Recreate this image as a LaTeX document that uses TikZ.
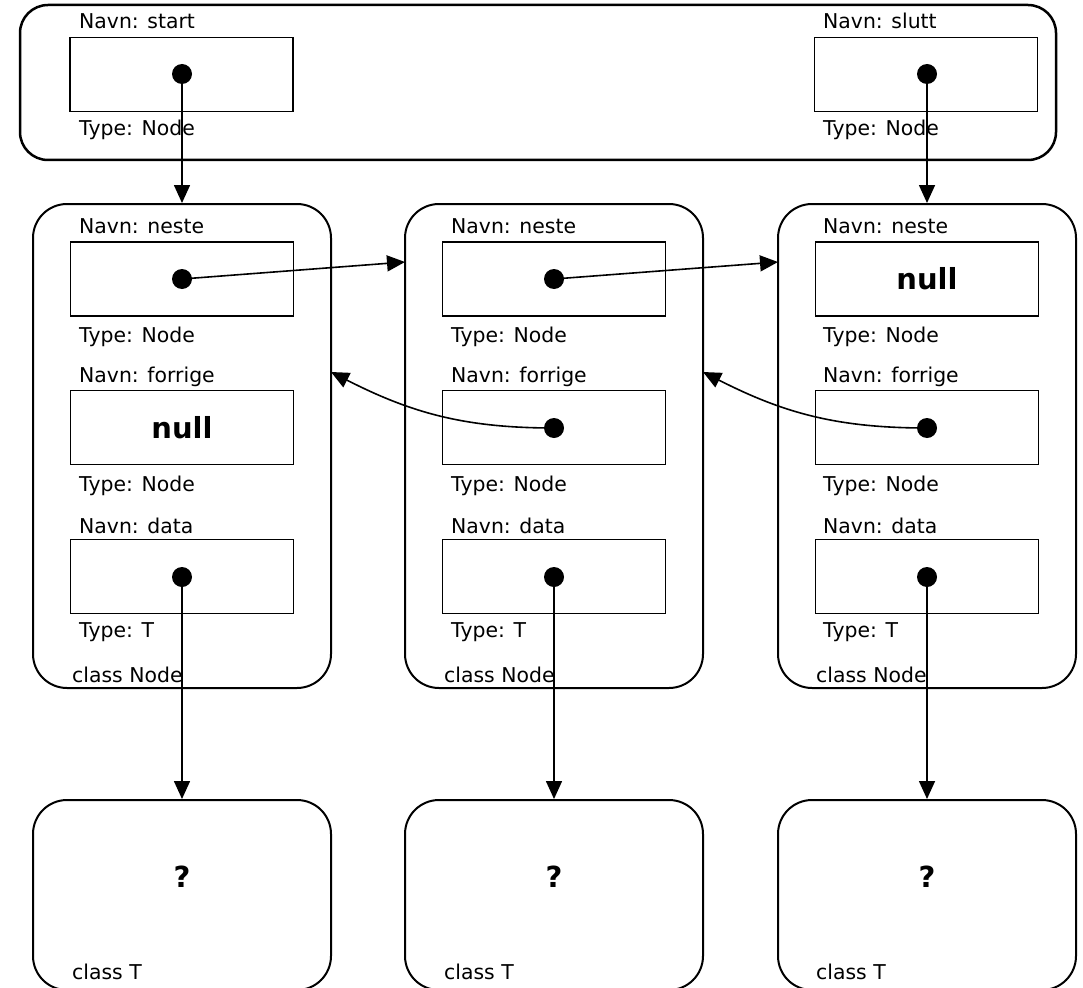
\documentclass[tikz,border=0pt]{standalone}
\usepackage{fontspec}
\setmainfont{DejaVu Sans}
\usetikzlibrary{arrows.meta}
\begin{document}
\begin{tikzpicture}[x=1pt,y=-1pt,
  lbl/.style={anchor=base west,inner sep=0pt,font=\fontsize{20.4}{23}\selectfont},
  big/.style={inner sep=0pt,font=\fontsize{29}{32}\selectfont\bfseries},
  field/.style={draw,line width=1.4pt,minimum width=223pt,minimum height=74pt,inner sep=0pt},
  holder/.style={draw,line width=2pt,rounded corners=34pt,minimum width=298pt,inner sep=0pt},
  topbox/.style={draw,line width=2.5pt,rounded corners=28pt,minimum width=1036pt,minimum height=155pt,inner sep=0pt},
  dot/.style={circle,fill=black,minimum size=20pt,inner sep=0pt},
  arr/.style={line width=1.6pt,-{Triangle[length=18pt,width=16pt]}}
]
\useasboundingbox (0,0) rectangle (1083,987);

% top container
\node[topbox] (top) at (538,82.5) {};
\node[field] (fstart) at (181.5,74.5) {};
\node[field] (fslutt) at (926,74.5) {};
\node[lbl] (lstart) at (79,29) {Navn: start};
\node[lbl] (tstart) at (79,136) {Type: Node};
\node[lbl] (lslutt) at (823,29) {Navn: slutt};
\node[lbl] (tslutt) at (823,136) {Type: Node};
\node[dot] (dstart) at (182,74) {};
\node[dot] (dslutt) at (927,74) {};

% node containers and fields
\foreach \i/\cx/\lx/\kx in {1/182/79/72, 2/554/451/444, 3/927/823/816} {
  \node[holder,minimum height=484pt] (c\i) at (\cx,446) {};
  \node[holder,minimum height=190pt] (t\i) at (\cx,895) {};
  \node[field] (fn\i) at (\cx,279) {};
  \node[field] (ff\i) at (\cx,427.5) {};
  \node[field] (fd\i) at (\cx,576.5) {};
  \node[lbl] (ln\i) at (\lx,233) {Navn: neste};
  \node[lbl] (tn\i) at (\lx,342) {Type: Node};
  \node[lbl] (lf\i) at (\lx,382) {Navn: forrige};
  \node[lbl] (tf\i) at (\lx,491) {Type: Node};
  \node[lbl] (ld\i) at (\lx,533) {Navn: data};
  \node[lbl] (td\i) at (\lx,637) {Type: T};
  \node[lbl] (cn\i) at (\kx,682) {class Node};
  \node[lbl] (ct\i) at (\kx,979) {class T};
  \node[big] (q\i) at (\cx,877) {?};
  \node[dot] (dd\i) at (\cx,577) {};
}
\node[big] (null1) at (182,428) {null};
\node[big] (null3) at (927,279) {null};

\node[dot] (dn1) at (182,279) {};
\node[dot] (dn2) at (554,279) {};
\node[dot] (df2) at (554,428) {};
\node[dot] (df3) at (927,428) {};

\coordinate (in2) at (405,262);
\coordinate (in3) at (778,262);
\coordinate (back1) at (331,372);
\coordinate (back2) at (703,372);

% connectors
\draw[arr] (dstart.center) -- (c1.north);
\draw[arr] (dslutt.center) -- (c3.north);
\draw[arr] (dn1.center) -- (in2);
\draw[arr] (dn2.center) -- (in3);
\draw[arr] (df2.center) to[out=180,in=-27] (back1);
\draw[arr] (df3.center) to[out=180,in=-27] (back2);
\foreach \i in {1,2,3} {
  \draw[arr] (dd\i.center) -- (t\i.north);
}
\end{tikzpicture}
\end{document}
